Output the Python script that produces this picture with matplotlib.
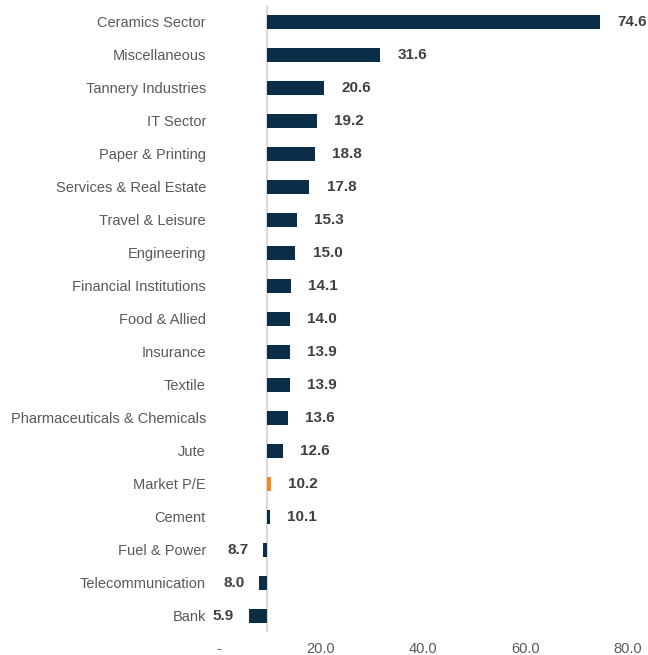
import matplotlib.pyplot as plt

plt.rcParams['font.family'] = ['Liberation Sans', 'DejaVu Sans']

# sector P/E values, top to bottom as shown
sectors = [
    "Ceramics Sector", "Miscellaneous", "Tannery Industries", "IT Sector",
    "Paper & Printing", "Services & Real Estate", "Travel & Leisure",
    "Engineering", "Financial Institutions", "Food & Allied", "Insurance",
    "Textile", "Pharmaceuticals & Chemicals", "Jute", "Market P/E",
    "Cement", "Fuel & Power", "Telecommunication", "Bank",
]
pe_values = [74.6, 31.6, 20.6, 19.2, 18.8, 17.8, 15.3, 15.0, 14.1, 14.0,
             13.9, 13.9, 13.6, 12.6, 10.2, 10.1, 8.7, 8.0, 5.9]
highlight = "Market P/E"
baseline = 9.5
x_ticks = [0, 20, 40, 60, 80]
x_tick_labels = ["-", "20.0", "40.0", "60.0", "80.0"]

NAVY = "#0b2d48"
ORANGE = "#f28a23"
GRAY = "#595959"


def main():
    fig = plt.figure(figsize=(6.48, 6.55), dpi=100)
    ax = fig.add_axes([0.337, 0.035, 0.632, 0.957])

    ypos = list(range(len(sectors)))[::-1]
    colors = [ORANGE if s == highlight else NAVY for s in sectors]
    widths = [v - baseline for v in pe_values]

    ax.barh(ypos, widths, left=baseline, height=0.42, color=colors)

    # value labels, right of bar end or left of bar start
    for y, v in zip(ypos, pe_values):
        if v >= baseline:
            ax.annotate(f"{v:.1f}", (v, y), xytext=(12.5, 0),
                        textcoords="offset points", ha="left", va="center",
                        fontsize=11, fontweight="bold", color="#404040")
        else:
            ax.annotate(f"{v:.1f}", (v, y), xytext=(-10.5, 0),
                        textcoords="offset points", ha="right", va="center",
                        fontsize=11, fontweight="bold", color="#404040")

    ax.axvline(baseline, color="#d9d9d9", lw=1.5, zorder=0)

    ax.set_xlim(0, 80)
    ax.set_ylim(-0.5, len(sectors) - 0.5)
    ax.set_yticks(ypos)
    ax.set_yticklabels(sectors, fontsize=10.5, color=GRAY)
    ax.set_xticks(x_ticks)
    ax.set_xticklabels(x_tick_labels, fontsize=10.5, color=GRAY)
    ax.tick_params(axis="both", length=0)
    ax.tick_params(axis="y", pad=9)
    ax.tick_params(axis="x", pad=7)
    for s in ax.spines.values():
        s.set_visible(False)

    fig.savefig("out.png", dpi=100)


if __name__ == '__main__':
    main()
